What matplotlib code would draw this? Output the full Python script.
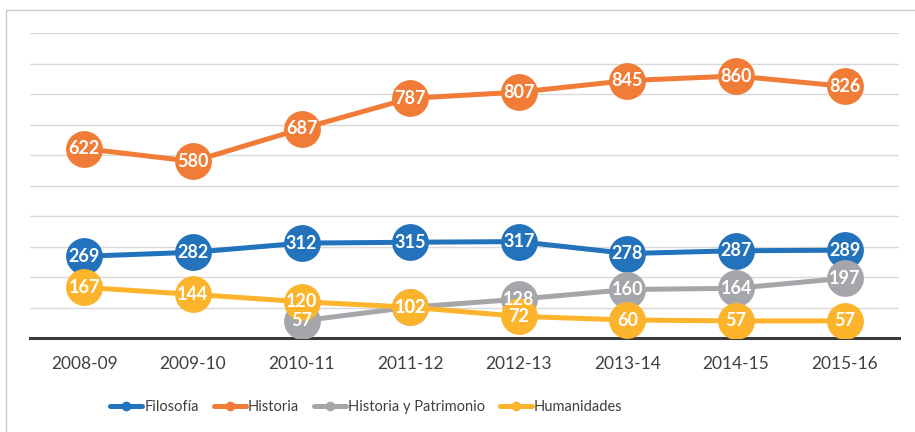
import numpy as np
import matplotlib
matplotlib.use("Agg")
import matplotlib.pyplot as plt
from matplotlib.patches import Rectangle
from matplotlib.lines import Line2D

categories = ["2008-09", "2009-10", "2010-11", "2011-12", "2012-13", "2013-14", "2014-15", "2015-16"]
filosofia = [269, 282, 312, 315, 317, 278, 287, 289]
historia = [622, 580, 687, 787, 807, 845, 860, 826]
historia_patrimonio = [np.nan, np.nan, 57, 102, 128, 160, 164, 197]
humanidades = [167, 144, 120, 102, 72, 60, 57, 57]

series = [
    ("Filosofía", filosofia, "#2272BC"),
    ("Historia", historia, "#F07C38"),
    ("Historia y Patrimonio", historia_patrimonio, "#A4A6A9"),
    ("Humanidades", humanidades, "#FBB42C"),
]

plt.rcParams['font.family'] = ['Lato', 'DejaVu Sans']

W, H = 915, 432
fig = plt.figure(figsize=(W / 100, H / 100), dpi=100)
fig.patch.set_facecolor("white")

# outer border
fig.patches.append(Rectangle((6 / W, 0 - 0.01), 1.05, 1 - 10 / H + 0.01, transform=fig.transFigure,
                             fill=False, edgecolor="#C8C8C8", linewidth=1.0))

left, right = 30 / W, 899 / W
bottom, top = (H - 338.3) / H, (H - 33.3) / H
ax = fig.add_axes([left, bottom, right - left, top - bottom])

x = np.arange(len(categories))
for i, (name, vals, col) in enumerate(series):
    ax.plot(x, vals, color=col, lw=3.6, marker="o", ms=26.5, markeredgewidth=0,
            solid_capstyle="round", zorder=3 + i)

for i, (name, vals, col) in enumerate(series):
    for xi, v in zip(x, vals):
        if np.isnan(v):
            continue
        ax.text(xi, v, f"{int(v)}", ha="center", va="center", color="white",
                fontsize=13, fontweight="bold", zorder=10)

ax.set_xlim(-0.5, len(categories) - 0.5)
ax.set_ylim(0, 1000)
ax.set_yticks(np.arange(0, 1001, 100))
ax.set_yticklabels([])
ax.tick_params(axis="y", length=0)
ax.grid(axis="y", color="#D9D9D9", lw=1.0, zorder=0)
ax.set_axisbelow(True)
ax.set_xticks(x)
ax.set_xticklabels(categories, fontsize=12.5, color="#404040")
ax.tick_params(axis="x", length=0, pad=13)
for s in ["top", "right", "left"]:
    ax.spines[s].set_visible(False)
ax.spines["bottom"].set_color("#3A3A3A")
ax.spines["bottom"].set_linewidth(2.2)
ax.spines["bottom"].set_zorder(2)

handles = [Line2D([0], [0], color=col, lw=3.6, marker="o", ms=7, markeredgewidth=0,
                  solid_capstyle="round") for _, _, col in series]
labels = [s[0] for s in series]
leg = fig.legend(handles, labels, loc="center", bbox_to_anchor=(366.5 / W, 1 - 406.7 / H),
                 ncol=4, frameon=False, fontsize=10.5, handlelength=2.2, handletextpad=0.15,
                 columnspacing=1.0, labelcolor="#404040", borderpad=0, borderaxespad=0)

fig.savefig("out.png", dpi=100, facecolor="white")
